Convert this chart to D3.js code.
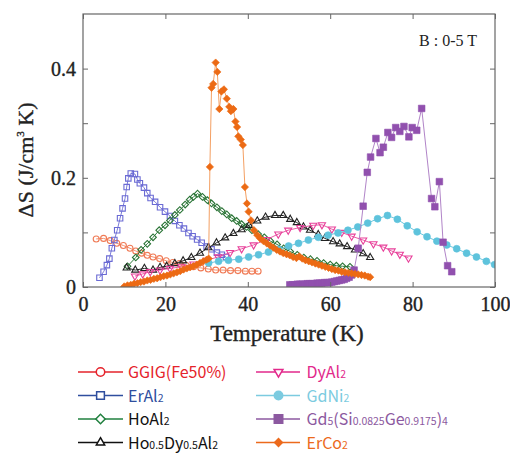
<!DOCTYPE html>
<html>
<head>
<meta charset="utf-8">
<script src="https://cdn.jsdelivr.net/npm/d3@7"></script>
<style>
  body { margin: 0; background: #fff; }
  svg { display: block; }
</style>
</head>
<body>
<svg id="chart"></svg>
<script>
// Temperature (K) / entropy change (J/cm3 K)
const ggigT = [3.2, 5.0, 6.6, 8.2, 9.8, 11.4, 12.8, 14.2, 15.6, 17.0, 18.6, 20.2, 21.8, 23.4, 25.0, 26.8, 28.6, 30.4, 32.2, 34.0, 35.8, 37.6, 39.4, 41.0, 42.5];
const ggigS = [.088, .089, .085, .080, .076, .071, .066, .062, .058, .055, .052, .048, .045, .043, .040, .037, .035, .033, .031, .031, .030, .030, .029, .029, .029];

const erAlT = [4.0, 5.0, 5.8, 6.4, 7.0, 7.6, 8.3, 9.0, 9.6, 10.2, 10.6, 11.0, 11.6, 12.6, 13.2, 13.8, 14.8, 15.6, 16.4, 17.5, 18.7, 19.9, 21.1, 22.3, 23.4, 24.5, 25.6, 26.6, 27.7, 28.8, 30.0, 31.2, 32.5, 33.7, 34.7];
const erAlS = [.017, .028, .040, .052, .071, .086, .104, .126, .144, .162, .183, .199, .208, .207, .197, .190, .182, .172, .163, .156, .146, .138, .130, .121, .113, .107, .099, .093, .087, .081, .074, .069, .063, .059, .055];

const hoAlT = [10.8, 12.8, 14.1, 15.6, 17.0, 18.5, 19.9, 21.1, 22.3, 23.5, 24.8, 25.9, 26.8, 27.8, 29.0, 30.2, 31.2, 32.5, 33.7, 34.9, 36.1, 37.3, 38.5, 39.7, 41.0, 42.5, 44.0, 45.5, 47.1, 48.7, 50.3, 52.0, 53.6, 55.2, 56.8, 58.4, 60.0, 61.5, 63.0, 64.8];
const hoAlS = [.038, .054, .068, .079, .091, .104, .113, .122, .132, .141, .151, .160, .165, .171, .165, .159, .153, .146, .139, .133, .126, .121, .115, .110, .104, .097, .091, .084, .078, .071, .065, .059, .054, .051, .048, .044, .041, .039, .038, .037];

const hoDyT = [10.6, 12.7, 14.9, 17.0, 18.7, 20.3, 22.3, 24.3, 26.3, 28.4, 30.4, 32.4, 34.5, 36.5, 38.5, 40.3, 42.3, 44.3, 46.6, 48.6, 50.3, 51.9, 53.5, 55.1, 57.1, 58.7, 60.7, 62.3, 64.1, 66.0, 68.0, 69.7];
const hoDyS = [.035, .031, .034, .031, .036, .038, .043, .048, .054, .062, .072, .081, .090, .098, .105, .113, .121, .128, .131, .131, .124, .118, .110, .104, .096, .089, .083, .079, .074, .068, .061, .054];

const dyAlT = [12.6, 14.5, 16.3, 18.7, 21.1, 23.9, 26.8, 30.0, 32.8, 35.7, 38.5, 41.4, 44.6, 47.4, 49.8, 52.7, 55.9, 58.0, 60.4, 62.8, 65.2, 68.0, 70.5, 72.9, 74.9, 76.9, 79.0];
const dyAlS = [.020, .024, .028, .031, .034, .037, .042, .049, .055, .063, .070, .077, .087, .097, .104, .109, .113, .114, .106, .100, .093, .086, .079, .073, .066, .060, .053];

const gdNiT = [30.5, 32.9, 35.3, 37.8, 40.2, 42.6, 45.0, 47.5, 49.9, 52.3, 54.7, 57.1, 59.5, 61.9, 64.3, 66.7, 69.1, 71.5, 73.9, 76.3, 78.7, 81.1, 83.5, 85.9, 88.3, 90.7, 93.1, 95.5, 97.9, 99.9];
const gdNiS = [.044, .047, .049, .051, .055, .059, .064, .069, .075, .080, .086, .091, .095, .099, .104, .110, .117, .125, .131, .124, .112, .101, .092, .084, .077, .070, .062, .055, .047, .041];

const gdSiT = [50.2, 50.8, 51.4, 52.0, 52.6, 53.2, 53.8, 54.4, 55.0, 55.6, 56.2, 56.8, 57.4, 58.0, 58.6, 59.2, 59.8, 60.4, 61.0, 61.6, 62.2, 62.8, 63.4, 64.0, 64.6, 65.2, 65.8, 66.8, 68.0, 69.0, 69.8, 71.1, 72.1, 72.9, 74.0, 74.9, 75.9, 76.9, 77.9, 79.1, 79.9, 81.0, 82.2, 84.6, 85.4, 86.5, 87.4, 88.5, 89.5];
const gdSiS = [.004, .004, .004, .005, .005, .005, .005, .006, .006, .006, .006, .007, .007, .007, .008, .008, .008, .009, .010, .011, .012, .013, .014, .016, .018, .022, .031, .071, .148, .210, .238, .272, .246, .256, .283, .274, .292, .285, .294, .275, .292, .287, .327, .162, .147, .193, .082, .039, .028];

const erCoT = [10.0, 10.8, 11.6, 12.4, 13.2, 14.0, 14.8, 15.6, 16.4, 17.2, 18.0, 18.8, 19.6, 20.4, 21.2, 22.0, 22.8, 23.6, 24.4, 25.2, 26.0, 26.8, 27.6, 28.4, 29.2, 30.0, 30.5,
  30.8, 31.2, 31.6, 32.2, 32.6, 33.1, 33.6, 34.2, 34.9, 35.5, 35.9, 36.5, 37.0, 37.4, 37.7, 38.3, 38.8, 39.3, 39.8, 40.2, 40.8, 41.5,
  42.3, 43.0, 43.8, 44.6, 45.4, 46.2, 47.0, 47.8, 48.6, 49.4, 50.2, 51.0, 51.8, 52.5, 53.2, 54.0, 54.8, 55.6, 56.4, 57.2, 58.0, 58.8, 59.6, 60.4, 61.2, 62.0, 62.8, 63.6, 64.4, 65.2, 66.0, 66.8, 67.6, 68.4, 69.2, 69.7];
const erCoS = [.001, .003, .004, .006, .007, .009, .010, .012, .013, .015, .016, .018, .020, .021, .023, .025, .027, .029, .032, .034, .036, .038, .041, .044, .047, .050, .052,
  .220, .365, .372, .411, .394, .326, .358, .362, .345, .330, .322, .326, .303, .293, .276, .270, .260, .183, .153, .138, .122, .104,
  .095, .089, .084, .080, .076, .072, .068, .065, .062, .060, .058, .055, .053, .056, .052, .049, .047, .045, .043, .041, .039, .037, .035, .033, .031, .030, .028, .027, .026, .025, .024, .023, .022, .021, .019, .018];

const xTicks = [0, 20, 40, 60, 80, 100];
const yTicks = [0, 0.1, 0.2, 0.3, 0.4];
const yLabelled = [0, 0.2, 0.4];

// legend names: [text, isSubscript]
const legendNames = [
  [['GGIG(Fe50%)', 0]],
  [['ErAl', 0], ['2', 1]],
  [['HoAl', 0], ['2', 1]],
  [['Ho', 0], ['0.5', 1], ['Dy', 0], ['0.5', 1], ['Al', 0], ['2', 1]],
  [['DyAl', 0], ['2', 1]],
  [['GdNi', 0], ['2', 1]],
  [['Gd', 0], ['5', 1], ['(Si', 0], ['0.0825', 1], ['Ge', 0], ['0.9175', 1], [')', 0], ['4', 1]],
  [['ErCo', 0], ['2', 1]]
];

const width = 510, height = 455;
const margin = { top: 14, right: 15, bottom: 168, left: 83 };

const x = d3.scaleLinear().domain([0, 100]).range([margin.left, width - margin.right]);
const y = d3.scaleLinear().domain([0, 0.5]).range([height - margin.bottom, margin.top]);

// size = plot marker area, lsize = legend marker area, rot = marker rotation
const styles = [
  { T: ggigT, S: ggigS, sym: d3.symbolCircle, size: 28, lsize: 56, rot: 0, fill: 'none', mark: '#f07a55', line: '#f3906e', legend: '#e5232b', text: '#e5232b' },
  { T: erAlT, S: erAlS, sym: d3.symbolSquare, size: 30, lsize: 60, rot: 0, fill: 'none', mark: '#6a6ad4', line: '#7a7ad8', legend: '#2f4e9e', text: '#2f4e9e' },
  { T: hoAlT, S: hoAlS, sym: d3.symbolSquare, size: 22, lsize: 44, rot: 45, fill: 'none', mark: '#2a7436', line: '#2f7d3c', legend: '#21803f', text: '#111' },
  { T: hoDyT, S: hoDyS, sym: d3.symbolTriangle, size: 22, lsize: 30, rot: 0, fill: 'none', mark: '#222', line: '#222', legend: '#111', text: '#111' },
  { T: dyAlT, S: dyAlS, sym: d3.symbolTriangle, size: 22, lsize: 34, rot: 180, fill: 'none', mark: '#e8409a', line: '#ea5aa6', legend: '#e2298b', text: '#e2298b' },
  { T: gdNiT, S: gdNiS, sym: d3.symbolCircle, size: 38, lsize: 56, rot: 0, fill: '#5ec3dc', mark: '#5ec3dc', line: '#6cc8df', legend: '#7ccbe0', text: '#7ccbe0' },
  { T: gdSiT, S: gdSiS, sym: d3.symbolSquare, size: 44, lsize: 72, rot: 0, fill: '#9150ae', mark: '#9150ae', line: '#b184c8', legend: '#8c59a0', text: '#8c59a0' },
  { T: erCoT, S: erCoS, sym: d3.symbolSquare, size: 27, lsize: 30, rot: 45, fill: '#ec6a14', mark: '#ec6a14', line: '#f4a063', legend: '#ec6a1c', text: '#ec6a1c' }
];

const svg = d3.select('#chart').attr('width', width).attr('height', height);

const serif = "'Liberation Serif', 'Times New Roman', serif";
const sans = "'Noto Sans CJK JP', 'Noto Sans', sans-serif";

const plot = svg.append('g');
plot.append('clipPath').attr('id', 'clip')
  .append('rect')
  .attr('x', margin.left).attr('y', margin.top)
  .attr('width', x(100) - x(0)).attr('height', y(0) - y(0.5));

const line = d3.line().x(d => x(d[0])).y(d => y(d[1]));

styles.forEach(s => {
  const pts = s.T.map((t, i) => [t, s.S[i]]);
  const g = plot.append('g').attr('clip-path', 'url(#clip)');
  g.append('path')
    .datum(pts)
    .attr('fill', 'none')
    .attr('stroke', s.line)
    .attr('stroke-width', 1)
    .attr('d', line);
  g.selectAll('path.m')
    .data(pts)
    .enter()
    .append('path')
    .attr('class', 'm')
    .attr('d', d3.symbol().type(s.sym).size(s.size))
    .attr('transform', d => `translate(${x(d[0])},${y(d[1])}) rotate(${s.rot})`)
    .attr('fill', s.fill === 'none' ? '#fff' : s.fill)
    .attr('fill-opacity', s.fill === 'none' ? 0 : 1)
    .attr('stroke', s.mark)
    .attr('stroke-width', s.fill === 'none' ? 1.1 : 0.6);
});

// axes, ticks pointing inward
const axisColor = '#666';
const axBottom = svg.append('g')
  .attr('transform', `translate(0,${y(0)})`)
  .call(d3.axisBottom(x).tickValues(xTicks).tickSizeInner(-5).tickSizeOuter(0).tickPadding(10));
const axTop = svg.append('g')
  .attr('transform', `translate(0,${y(0.5)})`)
  .call(d3.axisTop(x).tickValues(xTicks).tickSizeInner(-5).tickSizeOuter(0).tickFormat(''));
const axLeft = svg.append('g')
  .attr('transform', `translate(${x(0)},0)`)
  .call(d3.axisLeft(y).tickValues(yTicks).tickSizeInner(-5).tickSizeOuter(0).tickPadding(7)
    .tickFormat(d => yLabelled.includes(d) ? (d === 0 ? '0' : d3.format('.1f')(d)) : ''));
const axRight = svg.append('g')
  .attr('transform', `translate(${x(100)},0)`)
  .call(d3.axisRight(y).tickValues(yTicks).tickSizeInner(-5).tickSizeOuter(0).tickFormat(''));

[axBottom, axTop, axLeft, axRight].forEach(a => {
  a.select('.domain').remove();
  a.selectAll('line').attr('stroke', axisColor);
  a.selectAll('text')
    .attr('fill', '#222')
    .attr('stroke', '#222').attr('stroke-width', 0.35)
    .style('font-family', serif).style('font-size', '20px');
});

svg.append('rect')
  .attr('x', x(0)).attr('y', y(0.5))
  .attr('width', x(100) - x(0)).attr('height', y(0) - y(0.5))
  .attr('fill', 'none').attr('stroke', axisColor).attr('stroke-width', 1.2);

// axis titles
svg.append('text')
  .attr('x', (x(0) + x(100)) / 2 - 2)
  .attr('y', 341)
  .attr('text-anchor', 'middle')
  .attr('fill', '#222')
  .attr('stroke', '#222').attr('stroke-width', 0.35)
  .style('font-family', serif)
  .style('font-size', '23px')
  .text('Temperature (K)');

const yt = svg.append('text')
  .attr('transform', 'translate(33,160) rotate(-90)')
  .attr('text-anchor', 'middle')
  .attr('fill', '#222')
  .attr('stroke', '#222').attr('stroke-width', 0.35)
  .style('font-family', serif)
  .style('font-size', '22px');
yt.append('tspan').text('ΔS (J/cm');
yt.append('tspan').attr('dy', -9).style('font-size', '11px').text('3');
yt.append('tspan').attr('dy', 9).text(' K)');

svg.append('text')
  .attr('x', 477).attr('y', 46)
  .attr('text-anchor', 'end')
  .attr('fill', '#222')
  .style('font-family', serif)
  .style('font-size', '16px')
  .text('B : 0-5 T');

// legend
const legendRows = [372, 395.5, 419, 442.5];
const legendCols = [{ x0: 78, xm: 100.5, x1: 123, tx: 128 }, { x0: 256, xm: 278.5, x1: 300, tx: 306.5 }];

styles.forEach((s, i) => {
  const col = legendCols[Math.floor(i / 4)];
  const ry = legendRows[i % 4];
  const g = svg.append('g');
  g.append('line')
    .attr('x1', col.x0).attr('x2', col.x1)
    .attr('y1', ry).attr('y2', ry)
    .attr('stroke', s.legend).attr('stroke-width', 1.5);
  g.append('path')
    .attr('d', d3.symbol().type(s.sym).size(s.lsize)())
    .attr('transform', `translate(${col.xm},${ry}) rotate(${s.rot})`)
    .attr('fill', s.fill === 'none' ? '#fff' : s.legend)
    .attr('stroke', s.legend)
    .attr('stroke-width', 1.5);
  const t = g.append('text')
    .attr('x', col.tx).attr('y', ry + 6)
    .attr('fill', s.text)
    .style('font-family', sans)
    .style('font-size', '16px');
  legendNames[i].forEach(([txt, sub]) => {
    t.append('tspan').style('font-size', sub ? '10.5px' : '16px').text(txt);
  });
});
</script>
</body>
</html>
